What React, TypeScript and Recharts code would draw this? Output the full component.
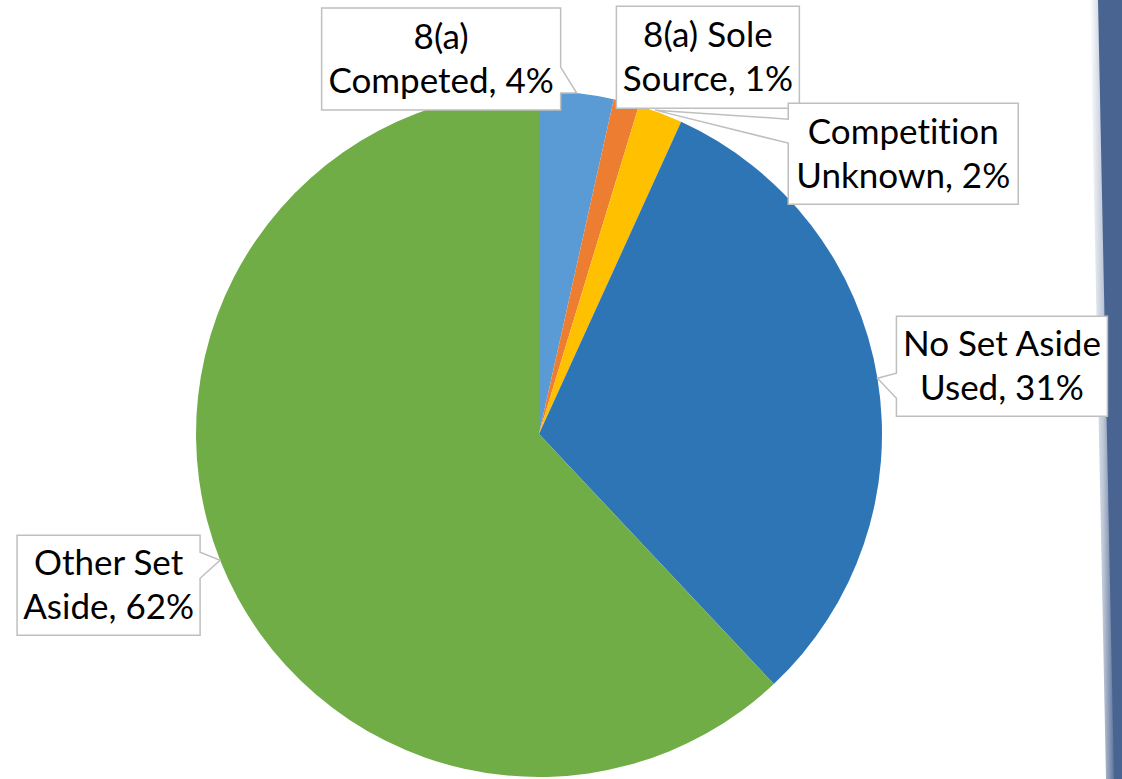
import React from "react";
import { PieChart, Pie, Cell } from "recharts";

const categories = [
  "8(a)|Competed",
  "8(a) Sole|Source",
  "Competition|Unknown",
  "No Set Aside|Used",
  "Other Set|Aside",
];
const shares = [3.5, 1.2, 2.1, 31.2, 62.0];
const colors = ["#5B9BD5", "#ED7D31", "#FFC000", "#2E75B6", "#70AD47"];

const data = categories.map((c, i) => ({ name: c, value: shares[i] }));

// Label box layout relative to the slice's anchor point on the outer edge
type Box = { dx: number; dy: number; w: number; h: number; side: "left" | "right" | "none"; p1: number; p2: number; tx: number; ty: number };
const BOXES: Box[] = [
  { dx: -255, dy: -85, w: 239, h: 102, side: "right", p1: -26, p2: 0, tx: 0, ty: 0 },
  { dx: -10, dy: -96, w: 183, h: 102, side: "none", p1: 0, p2: 0, tx: 0, ty: 0 },
  { dx: 128, dy: -10, w: 230, h: 101, side: "left", p1: 6, p2: 30, tx: -5, ty: -3 },
  { dx: 19, dy: -62, w: 211, h: 100, side: "left", p1: -5, p2: 20, tx: 0, ty: 0 },
  { dx: -203, dy: -25, w: 183, h: 100, side: "right", p1: -8, p2: 18, tx: 0, ty: 0 },
];

const RADIAN = Math.PI / 180;
const FONT = "Lato, 'Open Sans', sans-serif";

const renderLabel = (props: any) => {
  const { cx, cy, midAngle, outerRadius, index, value, name } = props;
  const ax = cx + outerRadius * Math.cos(-midAngle * RADIAN);
  const ay = cy + outerRadius * Math.sin(-midAngle * RADIAN);
  const b = BOXES[index];
  const L = ax + b.dx;
  const T = ay + b.dy;
  const R = L + b.w;
  const B = T + b.h;
  const tipX = ax + b.tx;
  const tipY = ay + b.ty;
  let d = "";
  if (b.side === "right") {
    d = `M${L},${T} H${R} V${ay + b.p1} L${tipX},${tipY} L${R},${ay + b.p2} V${B} H${L} Z`;
  } else if (b.side === "left") {
    d = `M${L},${T} H${R} V${B} H${L} V${ay + b.p2} L${tipX},${tipY} L${L},${ay + b.p1} Z`;
  } else {
    d = `M${L},${T} H${R} V${B} H${L} Z`;
  }
  const [l1, l2] = String(name).split("|");
  const mid = (T + B) / 2;
  const centerX = (L + R) / 2;
  const textStyle: React.CSSProperties = { fontVariantLigatures: "none", fontFeatureSettings: '"liga" 0, "clig" 0' };
  return (
    <g key={`lbl-${index}`}>
      <path d={d} fill="#FFFFFF" stroke="#BFBFBF" strokeWidth={1.5} />
      <text x={centerX} y={mid - 10} textAnchor="middle" fontFamily={FONT} fontSize={35} fill="#000000" style={textStyle}>
        {l1}
      </text>
      <text x={centerX} y={mid + 34} textAnchor="middle" fontFamily={FONT} fontSize={35} fill="#000000" style={textStyle}>
        {`${l2}, ${Math.round(value)}%`}
      </text>
    </g>
  );
};

export default function App() {
  return (
    <div
      style={{
        position: "absolute",
        left: 0,
        top: 0,
        width: 1122,
        height: 779,
        background: "#FFFFFF",
        overflow: "hidden",
      }}
    >
      <svg width={1122} height={779} style={{ position: "absolute", left: 0, top: 0 }}>
        <defs>
          <linearGradient id="edge" x1="0" y1="0" x2="1" y2="0">
            <stop offset="0" stopColor="#4A6491" stopOpacity={0} />
            <stop offset="0.5" stopColor="#4A6491" stopOpacity={0.35} />
            <stop offset="1" stopColor="#4A6491" stopOpacity={1} />
          </linearGradient>
        </defs>
        <polygon points="1090,0 1100,0 1116,779 1106,779" fill="url(#edge)" />
        <polygon points="1098,0 1122,0 1122,779 1114,779" fill="#4A6491" />
      </svg>
      <div style={{ position: "absolute", left: 0, top: 0 }}>
        <PieChart width={1122} height={779} margin={{ top: 0, right: 0, bottom: 0, left: 0 }}>
          <Pie
            data={data}
            dataKey="value"
            nameKey="name"
            cx={539}
            cy={434}
            outerRadius={343}
            startAngle={90}
            endAngle={-270}
            stroke="none"
            labelLine={false}
            label={renderLabel}
            isAnimationActive={false}
          >
            {data.map((d, i) => (
              <Cell key={d.name} fill={colors[i]} stroke="none" />
            ))}
          </Pie>
        </PieChart>
      </div>
    </div>
  );
}
